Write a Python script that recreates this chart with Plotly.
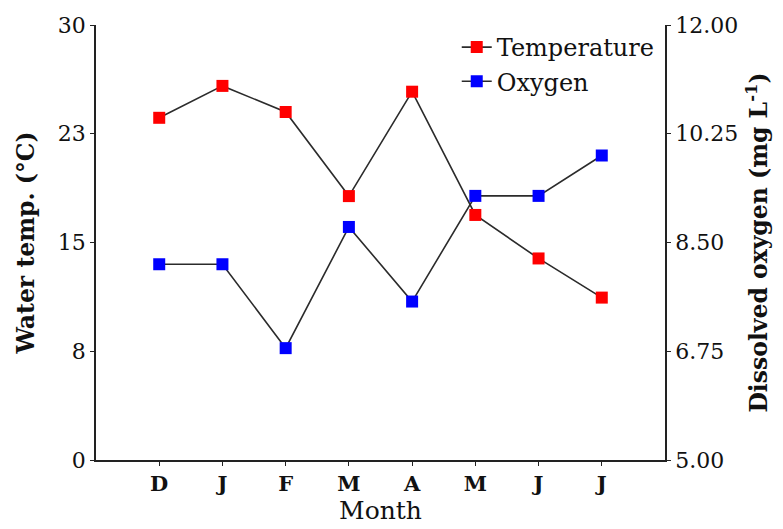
import plotly.graph_objects as go

months = ["D", "J", "F", "M", "A", "M", "J", "J"]
temperature = [23.6, 25.8, 24.0, 18.2, 25.4, 16.9, 13.9, 11.2]
oxygen = [8.15, 8.15, 6.8, 8.75, 7.55, 9.25, 9.25, 9.9]

left_tickvals = [0, 7.5, 15, 22.5, 30]
left_ticktext = ["0", "8", "15", "23", "30"]
right_tickvals = [5.00, 6.75, 8.50, 10.25, 12.00]
right_ticktext = ["5.00", "6.75", "8.50", "10.25", "12.00"]

xpos = list(range(len(months)))
FONT = "DejaVu Serif"
LINE = "#2b2b2b"
TXT = "#111"

fig = go.Figure()
fig.add_trace(go.Scatter(
    x=xpos, y=temperature, name="Temperature", mode="lines+markers",
    line=dict(color=LINE, width=1.6),
    marker=dict(symbol="square", size=12, color="#ff0000"),
    yaxis="y",
))
fig.add_trace(go.Scatter(
    x=xpos, y=oxygen, name="Oxygen", mode="lines+markers",
    line=dict(color=LINE, width=1.6),
    marker=dict(symbol="square", size=12, color="#0000ff"),
    yaxis="y2",
))

axis_common = dict(
    showgrid=False, zeroline=False, showline=True, linecolor="#222", linewidth=1.6,
    ticks="outside", ticklen=4, tickcolor="#222", tickwidth=1.4, automargin=False,
)

fig.update_layout(
    width=783, height=529,
    margin=dict(l=96, r=118, t=25, b=69),
    paper_bgcolor="white", plot_bgcolor="white",
    font=dict(family=FONT, size=22, color=TXT),
    showlegend=True,
    legend=dict(
        x=0.634, xanchor="left", y=1.0, yanchor="top",
        bgcolor="rgba(0,0,0,0)", font=dict(family=FONT, size=24, color=TXT),
        tracegroupgap=0, itemwidth=30,
    ),
    xaxis=dict(
        **axis_common,
        range=[-1, 8], tickmode="array", tickvals=xpos, ticktext=months,
        tickfont=dict(family=FONT, size=21, color=TXT, weight="bold"),
        title=dict(text="Month", font=dict(family=FONT, size=25, color=TXT), standoff=5),
    ),
    yaxis=dict(
        **axis_common,
        range=[0, 30], tickmode="array", tickvals=left_tickvals, ticktext=left_ticktext,
        tickfont=dict(family=FONT, size=22, color=TXT),
        title=dict(text="<b>Water temp. (°C)</b>", font=dict(family=FONT, size=23.5, color=TXT), standoff=17),
    ),
    yaxis2=dict(
        **axis_common,
        overlaying="y", side="right",
        range=[5, 12], tickmode="array", tickvals=right_tickvals, ticktext=right_ticktext,
        tickfont=dict(family=FONT, size=22, color=TXT),
        title=dict(text="<b>Dissolved oxygen (mg L<sup>-1</sup>)</b>", font=dict(family=FONT, size=23.5, color=TXT), standoff=13),
    ),
)

fig.write_html("out.html", config={"displayModeBar": False},
               post_script="document.body.style.margin='0px';")
